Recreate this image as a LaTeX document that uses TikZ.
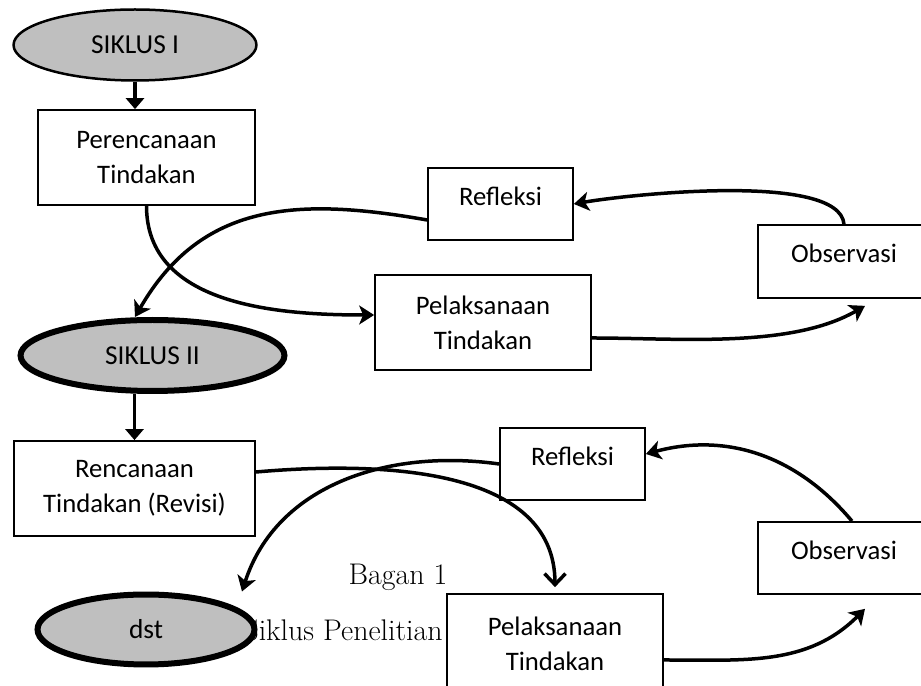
\documentclass[tikz,border=0pt]{standalone}
\usepackage{fontspec}
\usepackage{xcolor}
\usepackage{tikz}
\usetikzlibrary{
    shapes.geometric,
    arrows.meta
}
\newfontfamily\boxfont{Carlito}
\definecolor{sikgray}{HTML}{BFBFBF}
\tikzset{
    % Plain step box
    stepbox/.style={
        rectangle,
        draw=black,
        line width=0.035cm,
        fill=white,
        font=\boxfont\fontsize{15.2}{19.9}\selectfont,
        align=center,
        inner sep=0pt
    },
    % Single line set high in its box
    hightext/.style={
        text depth=0.32cm
    },
    % Cycle ellipse
    cyclenode/.style={
        ellipse,
        draw=black,
        fill=sikgray,
        line width=#1,
        font=\boxfont\fontsize{15.6}{19.9}\selectfont,
        inner sep=0pt
    },
    cyclenode/.default=0.05cm,
    % Caption text
    captext/.style={
        font=\fontsize{17}{20}\selectfont,
        inner sep=0pt
    },
    % Straight arrow
    downarrow/.style={
        line width=0.07cm,
        -{Triangle[length=0.22cm,width=0.36cm]}
    },
    % Curved arrow
    looparrow/.style={
        line width=0.07cm,
        -{Stealth[length=0.3cm,width=0.38cm,inset=0.08cm]}
    },
    % Curved arrow, open head
    openarrow/.style={
        line width=0.07cm,
        -{Straight Barb[length=0.22cm,width=0.42cm]}
    }
}

\begin{document}
\begin{tikzpicture}[x=0.02cm, y=0.02cm]
    \useasboundingbox (0,0) rectangle (921,686);

    % first cycle
    \node[cyclenode, minimum width=4.86cm, minimum height=1.42cm] (siklus1) at (135,641) {SIKLUS I};
    \node[stepbox, minimum width=4.34cm, minimum height=1.9cm] (perencanaan) at (146.5,528.5) {Perencanaan\\Tindakan};
    \node[stepbox, hightext, minimum width=2.9cm, minimum height=1.44cm] (refleksi1) at (500.5,482) {Refleksi};
    \node[stepbox, hightext, minimum width=3.44cm, minimum height=1.46cm] (observasi1) at (844,424.5) {Observasi};
    \node[stepbox, minimum width=4.32cm, minimum height=1.9cm] (pelaksanaan1) at (483,363.5) {Pelaksanaan\\Tindakan};

    % second cycle
    \node[cyclenode=0.12cm, minimum width=5.28cm, minimum height=1.42cm] (siklus2) at (152.5,330.5) {SIKLUS II};
    \node[stepbox, minimum width=4.82cm, minimum height=1.9cm] (rencanaan) at (134.5,197.5) {Rencanaan\\Tindakan (Revisi)};
    \node[stepbox, hightext, minimum width=2.9cm, minimum height=1.44cm] (refleksi2) at (572.5,222) {Refleksi};
    \node[stepbox, hightext, minimum width=3.44cm, minimum height=1.44cm] (observasi2) at (844,128) {Observasi};
    \node[stepbox, minimum width=4.32cm, minimum height=2cm] (pelaksanaan2) at (555,42) {Pelaksanaan\\Tindakan};

    % caption, partly under the last ellipse
    \node[captext] (bagan) at (398,109) {Bagan 1};
    \node[captext, anchor=east] (sikluscap) at (443,56) {Siklus Penelitian};
    \node[cyclenode=0.12cm, minimum width=4.34cm, minimum height=1.4cm] (dst) at (146,56.5) {dst};

    % arrows of cycle one
    \draw[downarrow] (siklus1.south) -- (siklus1.south |- perencanaan.north);
    \draw[looparrow] (perencanaan.south) to[out=-90,in=180] ([yshift=0.15cm]pelaksanaan1.west);
    \draw[looparrow] ([yshift=-0.31cm]pelaksanaan1.east) to[out=0,in=210,looseness=0.8] ([xshift=0.42cm,yshift=-0.14cm]observasi1.south);
    \draw[looparrow] (observasi1.north) to[out=95,in=10,looseness=0.5] (refleksi1.east);
    \draw[looparrow] ([yshift=-0.32cm]refleksi1.west) to[out=170,in=60,looseness=1.1] ([xshift=-0.35cm]siklus2.north);

    % arrows of cycle two
    \draw[downarrow] (rencanaan.north |- siklus2.south) -- (rencanaan.north);
    \draw[openarrow, shorten >=0.12cm] ([yshift=0.33cm]rencanaan.east) to[out=5,in=90] (pelaksanaan2.north);
    \draw[looparrow] ([yshift=-0.32cm]pelaksanaan2.east) to[out=0,in=225] ([xshift=0.42cm,yshift=-0.28cm]observasi2.south);
    \draw[looparrow] ([xshift=0.16cm]observasi2.north) to[out=130,in=15] ([yshift=0.2cm]refleksi2.east);
    \draw[looparrow] (refleksi2.west) to[out=172,in=72] ([xshift=1.92cm]dst.north);
\end{tikzpicture}
\end{document}
